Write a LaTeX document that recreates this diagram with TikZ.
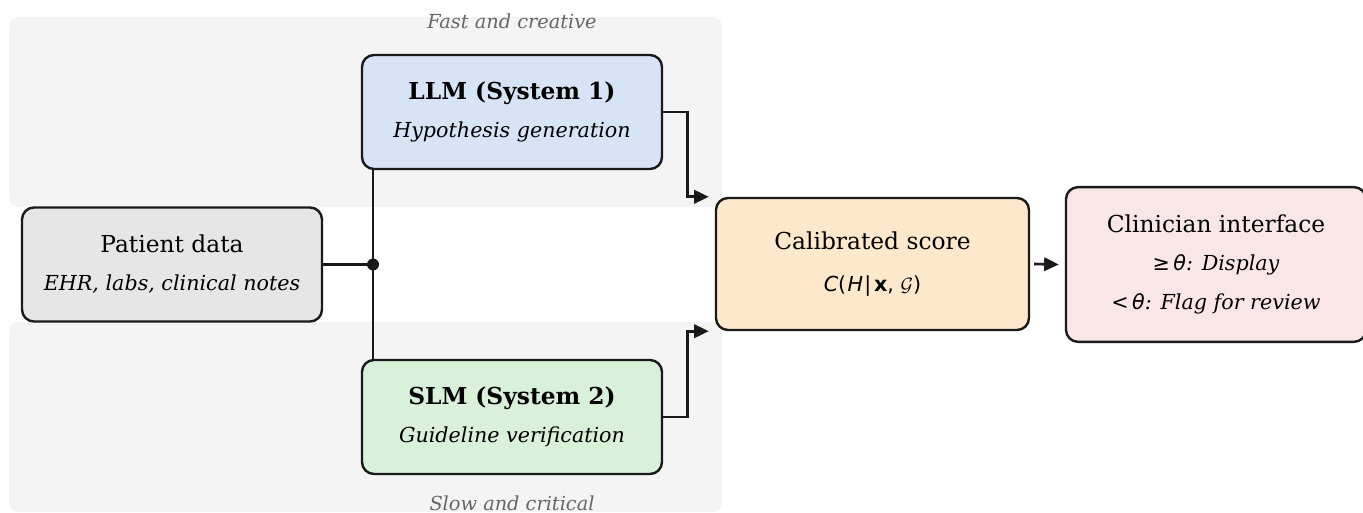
\documentclass[tikz,border=0pt]{standalone}
\usepackage{fontspec}
\setmainfont{DejaVu Serif}
\newfontfamily\mathsans{DejaVu Sans}
\usetikzlibrary{arrows.meta,calc,positioning}

\definecolor{bandgray}{HTML}{F4F4F4}
\definecolor{labelgray}{HTML}{666666}
\definecolor{edgedark}{HTML}{1A1A1A}
\definecolor{llmblue}{HTML}{D6E4F6}
\definecolor{slmgreen}{HTML}{D9F0D9}
\definecolor{patgray}{HTML}{E6E6E6}
\definecolor{calorange}{HTML}{FDE8CC}
\definecolor{clinpink}{HTML}{FBE6E7}

\newcommand{\ttl}{\fontsize{17.5}{17.5}\selectfont}
\newcommand{\sbt}{\fontsize{15.5}{15.5}\selectfont\itshape}

\begin{document}
\begin{tikzpicture}[x=0.75pt,y=-0.75pt,>={Triangle[length=11pt,width=10pt]},
  box/.style={draw=edgedark,line width=1.8pt,rounded corners=9pt,align=center,
    minimum width=225pt,minimum height=85.5pt,inner sep=0pt},
  band/.style={fill=bandgray,rounded corners=7pt},
  lanelbl/.style={labelgray,font=\fontsize{14.5}{14.5}\selectfont\itshape},
  wire/.style={edgedark,line width=2pt}]
  \useasboundingbox (0,0) rectangle (1363,513);

  % two lanes behind the systems
  \fill[band] (9,17) rectangle (722,207);
  \fill[band] (9,322) rectangle (722,512);
  \node[lanelbl] (fastlbl) at (512,21) {Fast and creative};
  \node[lanelbl] (slowlbl) at (512,503) {Slow and critical};

  \node[box,fill=patgray] (patient) at (172,264.5)
    {{\ttl Patient data}\\[15.5pt]{\sbt EHR, labs, clinical notes}};
  \node[box,fill=llmblue] (llm) at (512,112)
    {{\ttl\bfseries LLM (System 1)}\\[12pt]{\sbt Hypothesis generation}};
  \node[box,fill=slmgreen] (slm) at (512,417)
    {{\ttl\bfseries SLM (System 2)}\\[12pt]{\sbt Guideline verification}};
  \node[box,fill=calorange,minimum width=234.75pt,minimum height=99pt] (calib) at (872.5,264)
    {{\ttl Calibrated score}\\[18.5pt]{\fontsize{15.5}{15.5}\selectfont\mathsans
      {\itshape C}(\kern1pt{\itshape H}\kern1pt|\kern2pt{\bfseries x}, ${\mathcal G}$)}};
  \node[box,fill=clinpink,minimum height=116pt] (clin) at (1216,264.5)
    {{\ttl Clinician interface}\\[15.5pt]
     {\fontsize{15.5}{15.5}\selectfont{\mathsans ≥\,\itshape θ}\itshape: Display}\\[12.5pt]
     {\fontsize{15.5}{15.5}\selectfont{\mathsans <\,\itshape θ}\itshape: Flag for review}};

  \coordinate (split) at (373,264.5);
  \coordinate (intop) at ($(calib.north west)+(-6,0)$);
  \coordinate (inbot) at ($(calib.south west)+(-6,0)$);

  \draw[wire] (patient.east) -- (split);
  \draw[wire] (split |- llm.south) -- (split |- slm.north);
  \fill[edgedark] (split) circle[radius=4.5pt];
  \draw[wire,->] (llm.east) -| ($(intop)+(-21,0)$) -- (intop);
  \draw[wire,->] (slm.east) -| ($(inbot)+(-21,0)$) -- (inbot);
  \draw[wire,->] ([xshift=3pt]calib.east) -- ([xshift=-4.5pt]clin.west);
\end{tikzpicture}
\end{document}
